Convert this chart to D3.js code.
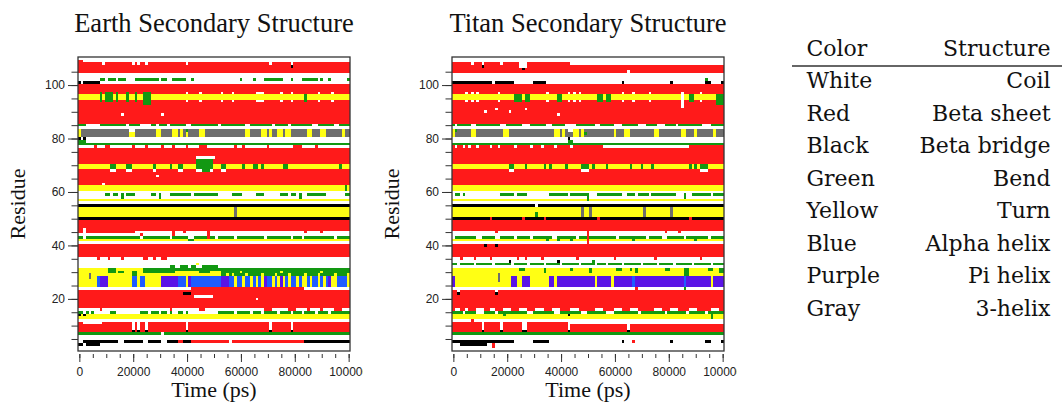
<!DOCTYPE html>
<html><head><meta charset="utf-8">
<script src="https://cdn.jsdelivr.net/npm/d3@7"></script>
<style>body{margin:0;background:#fff}svg{display:block}</style>
</head><body>
<svg id="chart" width="1062" height="406"></svg>
<script>
// ---------------- DATA ----------------
const timesPs = d3.range(0, 100001, 1000);          // 101 frames
const residues = d3.range(1, 111);                  // residues 1..110
const xMajorTicks = [0, 20000, 40000, 60000, 80000, 100000];
const xMinorTicks = d3.range(0, 100001, 5000);
const yMajorTicks = [20, 40, 60, 80, 100];
const yMinorTicks = d3.range(5, 110, 5);
const panelTitles = ["Earth Secondary Structure", "Titan Secondary Structure"];
const structureCodes = ["C", "E", "B", "S", "T", "H", "I", "G"];
const colorNames = ["White", "Red", "Black", "Green", "Yellow", "Blue", "Purple", "Gray"];
const structureNames = ["Coil", "Beta sheet", "Beta bridge", "Bend", "Turn", "Alpha helix", "Pi helix", "3-helix"];
const structureColors = ["#ffffff", "#ff1a1a", "#000000", "#129812", "#ffff14", "#1f5cff", "#5a14e6", "#6e6e6e"];

// dominant structure per residue band: [fromResidue, toResidue, code]
const earthBase = [[1,3,"C"],[4,4,"B"],[5,6,"C"],[7,7,"S"],[8,11,"E"],[12,12,"C"],[13,14,"T"],[15,16,"C"],[17,23,"E"],[24,24,"C"],[25,31,"T"],[32,35,"C"],[36,40,"E"],[41,41,"C"],[42,42,"T"],[43,43,"S"],[44,45,"C"],[46,49,"E"],[50,50,"B"],[51,54,"T"],[55,55,"B"],[56,56,"C"],[57,57,"T"],[58,60,"C"],[61,62,"T"],[63,68,"E"],[69,70,"T"],[71,76,"E"],[77,77,"C"],[78,78,"S"],[79,80,"C"],[81,83,"G"],[84,84,"C"],[85,85,"S"],[86,94,"E"],[95,96,"T"],[97,100,"E"],[101,104,"C"],[105,108,"E"],[109,110,"C"]];
const titanBase = [[1,3,"C"],[4,4,"C"],[5,6,"C"],[7,7,"S"],[8,11,"E"],[12,12,"C"],[13,14,"T"],[15,15,"S"],[16,23,"E"],[24,24,"C"],[25,31,"T"],[32,32,"C"],[33,33,"S"],[34,35,"C"],[36,40,"E"],[41,41,"C"],[42,42,"T"],[43,43,"S"],[44,45,"C"],[46,49,"E"],[50,50,"B"],[51,54,"T"],[55,55,"B"],[56,56,"C"],[57,57,"T"],[58,60,"C"],[61,62,"T"],[63,68,"E"],[69,70,"T"],[71,77,"E"],[78,78,"S"],[79,80,"C"],[81,83,"G"],[84,84,"C"],[85,85,"S"],[86,94,"E"],[95,96,"T"],[97,100,"E"],[101,104,"C"],[105,108,"E"],[109,110,"C"]];

// changes over time: [fromResidue, toResidue, fromFrame, toFrame, code] (frame = time/1000 ps)
const earthEvents = [
 [4,4,0,1,"C"],[3,3,0,1,"B"],[3,3,3,7,"B"],[4,4,15,16,"C"],[4,4,24,25,"C"],[4,4,31,32,"C"],[4,4,37,38,"E"],[4,4,42,55,"E"],[4,4,56,56,"C"],[4,4,57,83,"E"],
 [7,7,31,31,"C"],
 [8,8,20,20,"B"],[9,11,20,20,"C"],[8,8,22,22,"B"],[9,11,22,22,"C"],[8,8,25,25,"B"],[9,11,25,25,"C"],[8,8,40,40,"B"],[9,11,40,40,"C"],[8,8,71,71,"B"],[9,11,71,71,"C"],[8,8,79,79,"B"],[9,11,79,79,"C"],[11,11,2,8,"C"],
 [14,14,0,0,"B"],[14,14,2,2,"B"],
 [15,15,0,1,"S"],[15,15,3,3,"S"],[15,15,5,5,"S"],[15,15,12,13,"S"],[15,15,23,25,"S"],[15,15,27,29,"S"],[15,15,31,32,"S"],[15,15,34,34,"S"],[15,15,37,38,"S"],[15,15,40,40,"S"],[15,15,52,57,"S"],[15,15,59,63,"S"],[15,15,65,67,"S"],[15,15,69,73,"S"],[15,15,75,78,"S"],[15,15,80,82,"S"],[15,15,84,87,"S"],[15,15,89,92,"S"],[15,15,94,100,"S"],
 [16,16,8,8,"E"],[16,16,34,34,"E"],[16,16,45,46,"E"],[16,16,69,71,"E"],[16,16,78,80,"E"],[16,16,85,85,"E"],[16,16,90,90,"E"],[16,16,95,97,"E"],
 [20,20,66,66,"C"],[21,21,43,49,"C"],[22,22,39,41,"B"],[24,24,42,83,"E"],
 [25,28,7,7,"H"],[25,28,8,10,"I"],[25,28,20,21,"H"],[25,28,23,24,"H"],[25,28,31,36,"I"],[25,28,37,39,"H"],[25,28,41,41,"I"],[25,28,42,52,"H"],[25,28,53,55,"I"],[25,28,56,57,"H"],[25,28,59,60,"H"],[25,28,62,63,"H"],[25,28,65,65,"H"],[25,28,67,67,"H"],[25,28,69,69,"I"],[25,28,70,71,"H"],[25,28,73,73,"H"],[25,28,75,75,"I"],[25,28,77,77,"H"],[25,28,79,80,"H"],[25,28,82,82,"H"],[25,28,85,85,"H"],[25,28,87,88,"H"],[25,28,90,90,"H"],[25,28,92,92,"H"],[25,28,93,93,"I"],[25,28,96,99,"H"],
 [28,29,4,4,"G"],
 [30,31,11,13,"S"],[30,30,15,16,"S"],[29,30,20,21,"S"],[30,31,24,35,"S"],[31,31,36,52,"S"],[30,30,45,48,"S"],[29,31,53,100,"S"],
 [29,29,55,55,"T"],[29,29,57,57,"T"],[29,29,62,62,"T"],[29,29,68,68,"T"],[29,29,73,73,"T"],[29,29,78,78,"T"],[29,29,84,84,"T"],[29,29,89,89,"T"],[29,29,95,95,"T"],[29,29,100,100,"T"],[30,30,60,60,"T"],[30,30,75,75,"T"],[30,30,90,90,"T"],
 [32,32,34,35,"S"],[32,32,38,40,"S"],[32,32,42,43,"S"],[32,32,46,51,"S"],[33,33,44,44,"T"],
 [35,35,7,7,"E"],[35,35,11,11,"E"],[35,35,16,16,"E"],[35,35,24,25,"E"],[35,35,28,28,"E"],[35,35,31,32,"E"],
 [43,43,2,2,"C"],[43,43,23,23,"C"],[43,43,34,34,"C"],[43,43,41,42,"C"],[42,42,41,42,"S"],[43,43,51,51,"C"],[43,43,58,58,"C"],[43,43,69,69,"C"],[43,43,79,79,"C"],[43,43,83,83,"C"],[43,43,95,95,"C"],
 [45,45,0,1,"E"],[45,45,3,20,"E"],[44,44,23,23,"E"],[44,45,35,35,"E"],[45,45,39,39,"E"],[43,45,48,48,"E"],[45,45,84,84,"E"],[45,45,90,90,"E"],
 [46,46,2,2,"C"],[51,54,58,58,"G"],
 [59,59,10,11,"S"],[59,59,13,14,"S"],[58,59,16,16,"S"],[59,59,18,20,"S"],[59,59,27,28,"S"],[58,59,30,30,"S"],[59,59,34,41,"S"],[59,59,43,51,"S"],[59,59,57,60,"S"],[59,59,66,68,"S"],[59,59,75,77,"S"],[59,59,79,80,"S"],[58,59,82,82,"S"],[59,59,85,91,"S"],[59,59,99,100,"S"],
 [61,62,99,99,"S"],[63,63,9,9,"C"],[66,66,29,29,"C"],
 [69,70,12,13,"S"],[68,68,12,13,"C"],[69,70,18,19,"S"],[68,68,18,19,"C"],[69,70,28,28,"S"],[68,68,28,28,"C"],[69,70,34,34,"S"],[69,70,37,38,"S"],[68,68,37,38,"C"],[69,70,53,54,"S"],[68,68,53,54,"C"],[69,70,61,61,"S"],[69,70,65,66,"S"],[69,70,68,68,"S"],[69,70,76,77,"S"],[69,70,97,97,"S"],
 [73,73,44,50,"C"],[69,72,44,49,"S"],[68,68,44,49,"C"],[68,68,46,48,"S"],
 [77,77,6,6,"E"],[77,77,10,11,"E"],[77,77,20,20,"E"],[77,77,25,25,"E"],[77,77,31,31,"E"],[77,77,35,35,"E"],[77,77,40,40,"E"],[77,77,45,47,"E"],[77,77,58,58,"E"],[77,77,61,61,"E"],[77,77,70,70,"E"],[77,77,80,82,"E"],[77,77,88,88,"E"],
 [79,79,0,2,"S"],[80,80,0,0,"B"],[80,80,2,2,"B"],
 [81,83,0,0,"T"],[81,83,19,20,"T"],[81,83,29,30,"T"],[81,83,35,36,"T"],[81,83,38,38,"T"],[81,83,40,40,"T"],[81,83,45,46,"T"],[81,83,62,63,"T"],[81,83,68,69,"T"],[81,83,71,71,"T"],[81,83,74,75,"T"],[81,83,77,78,"T"],[81,83,85,86,"T"],[81,83,90,91,"T"],[81,83,98,98,"T"],[83,83,19,20,"C"],[83,83,40,40,"S"],
 [85,85,3,7,"C"],[85,85,18,18,"C"],[85,85,23,26,"C"],[85,85,29,29,"C"],[85,85,33,33,"C"],[85,85,40,41,"C"],[85,85,52,52,"C"],[85,85,62,63,"C"],[85,85,72,72,"C"],[85,85,78,78,"C"],[85,85,87,88,"C"],[85,85,95,96,"C"],
 [89,89,16,16,"C"],[89,89,31,31,"C"],
 [94,97,8,8,"S"],[94,97,10,12,"S"],[94,97,14,14,"S"],[94,97,18,18,"S"],[94,97,21,21,"S"],[93,97,24,26,"S"],[94,96,84,84,"S"],
 [94,94,40,40,"C"],[97,97,40,40,"C"],[94,94,45,45,"C"],[97,97,45,45,"C"],[94,94,53,53,"C"],[97,97,53,53,"C"],[94,94,57,57,"C"],[97,97,57,57,"C"],[94,94,66,68,"C"],[97,97,66,68,"C"],[94,94,75,75,"C"],[97,97,75,75,"C"],[94,94,79,79,"C"],[97,97,79,79,"C"],[94,94,89,89,"C"],[97,97,89,89,"C"],[94,94,94,94,"C"],[97,97,94,94,"C"],
 [101,101,0,7,"B"],[101,101,1,1,"C"],
 [102,102,8,9,"S"],[102,102,11,13,"S"],[102,102,15,17,"S"],[102,102,21,29,"S"],[102,102,31,32,"S"],[102,102,35,39,"S"],[102,102,42,42,"S"],[102,102,60,60,"S"],[102,102,65,65,"S"],[102,102,69,75,"S"],[102,102,79,79,"S"],[102,102,83,88,"S"],[102,102,90,90,"S"],[102,102,93,93,"S"],[102,102,100,100,"S"],
 [108,108,9,9,"C"],[108,108,20,20,"C"],[108,108,22,22,"C"],[108,108,25,25,"C"],[108,108,40,40,"C"],[108,108,71,71,"C"],[107,107,79,79,"B"],[108,108,79,79,"C"],[109,109,0,1,"E"]
];

const titanEvents = [
 [4,4,0,22,"B"],[3,3,3,12,"B"],[4,4,30,35,"B"],[4,4,63,63,"B"],[4,4,81,81,"B"],[4,4,94,95,"B"],[4,4,100,100,"B"],[2,3,15,15,"E"],[4,4,67,67,"E"],
 [11,11,43,100,"C"],
 [8,8,11,11,"B"],[9,11,11,11,"C"],[8,8,18,18,"B"],[9,11,18,18,"C"],[8,8,26,27,"B"],[9,11,26,27,"C"],[8,8,43,43,"B"],[9,10,43,43,"C"],[8,8,65,65,"B"],[9,10,65,65,"C"],
 [12,12,7,7,"E"],[14,14,19,19,"S"],[13,14,96,96,"S"],[14,14,43,43,"B"],
 [15,15,4,4,"C"],[15,15,9,11,"C"],[15,15,16,16,"C"],[15,15,28,29,"C"],[15,15,38,39,"C"],[15,15,48,49,"C"],[15,15,57,59,"C"],[15,15,69,69,"C"],[15,15,79,79,"C"],[15,15,87,87,"C"],[15,15,94,94,"C"],
 [16,16,1,2,"C"],[16,16,5,5,"C"],[16,16,9,11,"C"],[16,16,14,15,"C"],[16,16,19,21,"C"],[16,16,25,27,"C"],[16,16,31,33,"C"],[16,16,37,39,"C"],[16,16,44,46,"C"],[16,16,53,55,"C"],[16,16,60,62,"C"],[16,16,66,68,"C"],[16,16,75,77,"C"],[16,16,81,83,"C"],[16,16,88,90,"C"],[16,16,96,98,"C"],
 [22,22,2,2,"B"],[23,23,2,2,"C"],[22,22,16,16,"B"],[23,23,16,16,"C"],[24,24,68,68,"E"],[24,24,86,86,"S"],
 [25,28,0,0,"I"],[25,28,22,23,"I"],[25,28,26,28,"I"],[25,28,36,37,"I"],[25,28,39,52,"I"],[25,28,54,58,"I"],[25,28,60,66,"I"],[25,28,67,67,"H"],[25,28,68,85,"I"],[25,28,86,86,"H"],[25,28,87,95,"I"],[25,28,97,100,"I"],
 [27,29,17,17,"G"],
 [31,31,25,26,"S"],[30,31,34,34,"S"],[31,31,44,44,"S"],[30,31,51,51,"S"],[31,31,61,62,"S"],[31,31,66,66,"S"],[30,31,68,68,"S"],[31,31,79,80,"S"],[29,31,86,87,"S"],[31,31,95,96,"S"],[30,31,99,100,"S"],
 [33,33,2,2,"C"],[33,33,8,8,"C"],[33,33,15,15,"C"],[33,33,22,22,"C"],[33,33,28,28,"C"],[33,33,34,34,"C"],[33,33,40,40,"C"],[33,33,47,47,"C"],[33,33,53,53,"C"],[33,33,57,57,"C"],[33,33,63,63,"C"],[33,33,70,70,"C"],[33,33,76,76,"C"],[33,33,82,82,"C"],[33,33,89,89,"C"],[33,33,96,96,"C"],
 [34,34,21,21,"B"],[34,34,39,39,"B"],[34,34,52,52,"S"],
 [35,35,3,3,"E"],[35,35,8,8,"E"],[35,35,14,14,"E"],[35,35,24,24,"E"],[35,35,27,27,"E"],[35,35,33,33,"E"],[35,35,46,46,"E"],[35,35,60,60,"E"],[35,35,75,75,"E"],[35,35,92,92,"E"],
 [40,40,12,12,"B"],[40,40,16,16,"B"],
 [42,42,35,35,"S"],[42,42,39,39,"S"],[42,42,44,44,"S"],[42,42,67,67,"S"],[42,42,90,90,"S"],
 [43,43,0,0,"C"],[43,43,9,10,"C"],[43,43,16,17,"C"],[43,43,23,23,"C"],[43,43,29,29,"C"],[43,43,37,38,"C"],[43,43,46,46,"C"],[43,43,61,61,"C"],[43,43,72,72,"C"],[43,43,78,79,"C"],[43,43,86,86,"C"],[43,43,95,95,"C"],
 [45,45,16,16,"E"],[41,45,50,50,"E"],[45,45,79,79,"E"],[45,45,84,84,"E"],
 [50,50,14,14,"E"],[50,50,26,26,"E"],[50,50,34,34,"E"],[50,50,54,54,"E"],[50,50,88,88,"E"],
 [51,54,48,48,"G"],[51,54,51,51,"G"],[51,54,71,71,"G"],[51,54,81,81,"G"],[55,55,31,31,"C"],[51,52,31,31,"S"],
 [59,59,1,2,"S"],[59,59,4,4,"S"],[59,59,18,22,"S"],[59,59,24,27,"S"],[59,59,36,42,"S"],[59,59,44,50,"S"],[57,58,50,50,"S"],[59,59,54,62,"S"],[59,59,65,67,"S"],[59,59,69,72,"S"],[59,59,74,82,"S"],[58,59,86,86,"S"],[59,59,89,95,"S"],[59,59,97,100,"S"],
 [69,70,21,22,"S"],[68,68,21,22,"C"],[69,70,27,27,"S"],[69,70,34,34,"S"],[69,70,36,36,"S"],[69,70,42,42,"S"],[69,70,48,50,"S"],[68,68,48,50,"C"],[69,70,52,52,"S"],[69,70,57,57,"S"],[69,70,66,66,"S"],[69,70,70,70,"S"],[69,70,74,74,"S"],[69,70,88,88,"S"],[69,70,90,90,"S"],[69,70,92,94,"S"],[68,68,92,94,"C"],
 [77,77,1,1,"C"],[77,77,4,4,"C"],[77,77,6,6,"C"],[77,77,9,9,"C"],[77,77,14,14,"C"],[77,77,17,17,"C"],[77,77,23,23,"C"],[77,77,29,29,"C"],[77,77,33,33,"C"],[77,77,38,38,"C"],[77,77,44,44,"C"],[77,77,56,87,"C"],
 [80,80,43,43,"B"],[79,79,43,44,"S"],
 [81,83,0,0,"T"],[81,83,7,8,"T"],[81,83,19,20,"T"],[81,83,38,39,"T"],[81,83,41,41,"T"],[81,83,45,46,"T"],[81,83,48,48,"T"],[81,83,60,60,"T"],[81,83,64,65,"T"],[81,83,75,76,"T"],[81,83,85,86,"T"],[81,83,90,90,"T"],[81,83,97,97,"T"],[83,83,1,1,"S"],[82,82,49,49,"S"],[83,84,43,44,"C"],
 [85,85,1,1,"C"],[85,85,7,8,"C"],[85,85,18,19,"C"],[85,85,26,28,"C"],[85,85,35,36,"C"],[85,85,42,45,"C"],[85,85,53,54,"C"],[85,85,60,62,"C"],[85,85,69,71,"C"],[85,85,76,78,"C"],[85,85,83,83,"C"],[85,85,93,95,"C"],
 [90,90,12,12,"C"],[91,91,16,16,"C"],[90,90,21,21,"C"],[91,91,27,27,"C"],[89,89,39,39,"C"],
 [94,96,23,25,"S"],[94,96,27,28,"S"],[94,96,39,40,"S"],[94,96,54,55,"S"],[94,96,57,58,"S"],[94,96,88,89,"S"],[93,96,98,100,"S"],
 [94,94,5,5,"C"],[97,97,5,5,"C"],[94,94,7,7,"C"],[97,97,7,7,"C"],[94,94,9,9,"C"],[97,97,9,9,"C"],[94,94,17,17,"C"],[97,97,17,17,"C"],[94,94,35,35,"C"],[97,97,35,35,"C"],[94,94,43,43,"C"],[97,97,43,43,"C"],[94,94,45,45,"C"],[97,97,45,45,"C"],[94,94,47,47,"C"],[97,97,47,47,"C"],[94,94,63,63,"C"],[97,97,63,63,"C"],[94,94,67,67,"C"],[97,97,67,67,"C"],[94,94,73,73,"C"],[97,97,73,73,"C"],[92,97,85,85,"C"],[94,94,92,92,"C"],[97,97,92,92,"C"],
 [101,101,0,14,"B"],[101,101,16,22,"B"],[101,101,30,34,"B"],[101,101,63,63,"B"],[101,101,81,81,"B"],[101,101,94,95,"B"],[102,102,94,94,"S"],[101,101,100,100,"B"],
 [108,108,44,100,"C"],[108,108,7,7,"C"],[107,107,11,11,"B"],[108,108,11,11,"C"],[108,108,18,18,"C"],[107,108,25,27,"C"],[106,106,26,26,"B"],[105,105,65,65,"C"]
];

// ---------------- DRAW ----------------
const svg = d3.select("#chart");
const color = d3.scaleOrdinal().domain(structureCodes).range(structureColors);
const plotTop = 57, plotBottom = 351, plotW = 272;
const panels = [
  {title: panelTitles[0], left: 78, base: earthBase, events: earthEvents, ylabX: 25},
  {title: panelTitles[1], left: 452, base: titanBase, events: titanEvents, ylabX: 399}
];

function buildGrid(base, events) {
  const grid = residues.map(r => {
    const b = base.find(d => r >= d[0] && r <= d[1]);
    return timesPs.map(() => b ? b[2] : "C");
  });
  events.forEach(([r0, r1, f0, f1, c]) => {
    for (let r = r0; r <= r1; r++) for (let f = f0; f <= f1; f++) grid[r - 1][f] = c;
  });
  const runs = [];
  grid.forEach((row, i) => {
    let s = 0;
    for (let f = 1; f <= row.length; f++) {
      if (f === row.length || row[f] !== row[s]) {
        if (row[s] !== "C") runs.push({res: residues[i], t0: timesPs[s], t1: timesPs[f - 1], code: row[s]});
        s = f;
      }
    }
  });
  return runs;
}

panels.forEach((p, pi) => {
  const x = d3.scaleLinear().domain([-500, 100500]).range([p.left, p.left + plotW]);
  const y = d3.scaleLinear().domain([0.5, 110.5]).range([plotBottom, plotTop]);
  const g = svg.append("g");
  const runs = buildGrid(p.base, p.events);
  g.append("g").attr("shape-rendering", "crispEdges")
    .selectAll("rect").data(runs).join("rect")
    .attr("x", d => x(d.t0 - 500))
    .attr("width", d => x(d.t1 + 500) - x(d.t0 - 500))
    .attr("y", d => y(d.res + 0.5))
    .attr("height", d => y(d.res - 0.5) - y(d.res + 0.5))
    .attr("fill", d => color(d.code));
  g.append("rect").attr("x", p.left).attr("y", plotTop).attr("width", plotW).attr("height", plotBottom - plotTop)
    .attr("fill", "none").attr("stroke", "#333").attr("stroke-width", 1.3);

  // x axis (offset below frame), labels clipped just right of the frame
  const clipId = "clipx" + pi;
  svg.append("clipPath").attr("id", clipId).append("rect")
    .attr("x", p.left - 40).attr("y", -5).attr("width", plotW + 53).attr("height", 40);
  const xMinor = d3.axisBottom(x).tickValues(xMinorTicks).tickSize(4).tickFormat("");
  const xMajor = d3.axisBottom(x).tickValues(xMajorTicks).tickSize(8).tickPadding(5.5).tickFormat(d3.format("d"));
  const gxm = g.append("g").attr("transform", "translate(0,354)").call(xMinor);
  const gx = g.append("g").attr("transform", "translate(0,354)").attr("clip-path", `url(#${clipId})`).call(xMajor);
  [gxm, gx].forEach(a => { a.select(".domain").remove(); a.selectAll("line").attr("stroke", "#333"); });
  gx.selectAll("text").attr("font-family", "'Liberation Sans', Arial, sans-serif").attr("font-size", 12).attr("fill", "#222");

  const yMinor = d3.axisLeft(y).tickValues(yMinorTicks).tickSize(6.5).tickFormat("");
  const yMajor = d3.axisLeft(y).tickValues(yMajorTicks).tickSize(10).tickPadding(3).tickFormat(d3.format("d"));
  const gym = g.append("g").attr("transform", `translate(${p.left},0)`).call(yMinor);
  const gy = g.append("g").attr("transform", `translate(${p.left},0)`).call(yMajor);
  [gym, gy].forEach(a => { a.select(".domain").remove(); a.selectAll("line").attr("stroke", "#333"); });
  gy.selectAll("text").attr("font-family", "'Liberation Sans', Arial, sans-serif").attr("font-size", 12).attr("fill", "#222");

  const cx = p.left + plotW / 2;
  g.append("text").attr("x", cx).attr("y", 32).attr("text-anchor", "middle")
    .attr("font-family", "'Liberation Serif', 'Times New Roman', serif").attr("font-size", 26.5).attr("fill", "#111").text(p.title);
  g.append("text").attr("x", cx).attr("y", 397).attr("text-anchor", "middle")
    .attr("font-family", "'Liberation Serif', 'Times New Roman', serif").attr("font-size", 22).attr("fill", "#111").text("Time (ps)");
  g.append("text").attr("transform", `translate(${p.ylabX},${(plotTop + plotBottom) / 2}) rotate(-90)`).attr("text-anchor", "middle")
    .attr("font-family", "'Liberation Serif', 'Times New Roman', serif").attr("font-size", 22).attr("fill", "#111").text("Residue");
});

// legend table
const lg = svg.append("g").attr("font-family", "'DejaVu Serif', serif").attr("font-size", 22).attr("fill", "#111");
lg.append("text").attr("x", 806.5).attr("y", 56).text("Color");
lg.append("text").attr("x", 1050.5).attr("y", 56).attr("text-anchor", "end").text("Structure");
lg.append("line").attr("x1", 792).attr("x2", 1062).attr("y1", 66).attr("y2", 66).attr("stroke", "#333").attr("stroke-width", 1.3);
const rowY = d3.scaleLinear().domain([0, 7]).range([88.3, 315.5]);
colorNames.forEach((c, i) => {
  lg.append("text").attr("x", 806.5).attr("y", rowY(i)).text(c);
  lg.append("text").attr("x", 1050.5).attr("y", rowY(i)).attr("text-anchor", "end").text(structureNames[i]);
});
</script>
</body></html>
